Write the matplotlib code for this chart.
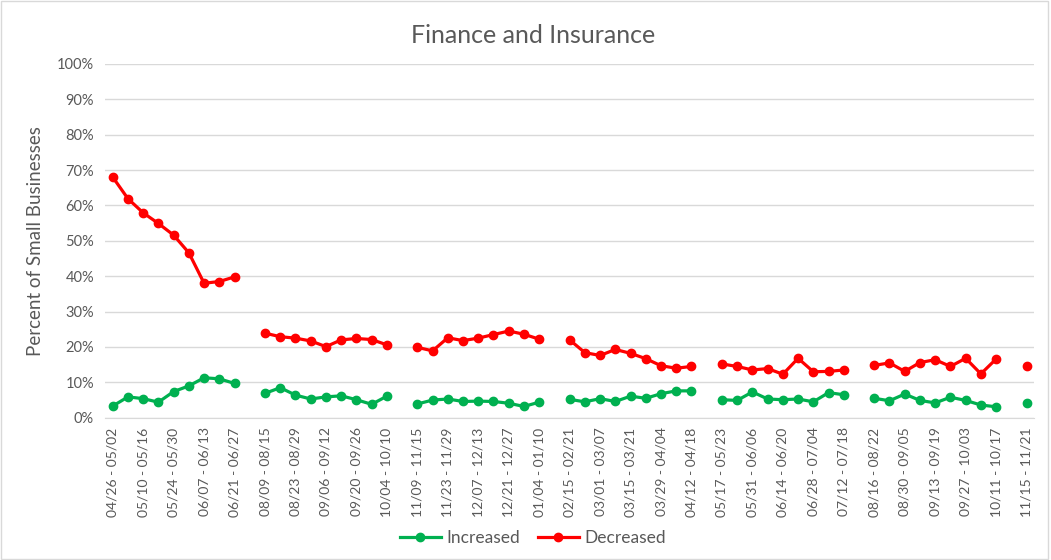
import numpy as np
import matplotlib
matplotlib.use('Agg')
import matplotlib.pyplot as plt
from matplotlib.patches import Rectangle
from matplotlib.ticker import PercentFormatter

plt.rcParams['font.family'] = ['Lato', 'DejaVu Sans']

# Survey periods (empty string = gap between survey phases)
periods = [
    '04/26 - 05/02', '05/03 - 05/09', '05/10 - 05/16', '05/17 - 05/23', '05/24 - 05/30',
    '05/31 - 06/06', '06/07 - 06/13', '06/14 - 06/20', '06/21 - 06/27', '',
    '08/09 - 08/15', '08/16 - 08/22', '08/23 - 08/29', '08/30 - 09/05', '09/06 - 09/12',
    '09/13 - 09/19', '09/20 - 09/26', '09/27 - 10/03', '10/04 - 10/10', '',
    '11/09 - 11/15', '11/16 - 11/22', '11/23 - 11/29', '11/30 - 12/06', '12/07 - 12/13',
    '12/14 - 12/20', '12/21 - 12/27', '12/28 - 01/03', '01/04 - 01/10', '',
    '02/15 - 02/21', '02/22 - 02/28', '03/01 - 03/07', '03/08 - 03/14', '03/15 - 03/21',
    '03/22 - 03/28', '03/29 - 04/04', '04/05 - 04/11', '04/12 - 04/18', '',
    '05/17 - 05/23', '05/24 - 05/30', '05/31 - 06/06', '06/07 - 06/13', '06/14 - 06/20',
    '06/21 - 06/27', '06/28 - 07/04', '07/05 - 07/11', '07/12 - 07/18', '',
    '08/16 - 08/22', '08/23 - 08/29', '08/30 - 09/05', '09/06 - 09/12', '09/13 - 09/19',
    '09/20 - 09/26', '09/27 - 10/03', '10/04 - 10/10', '10/11 - 10/17', '',
    '11/15 - 11/21',
]

nan = np.nan
increased = [
    3.3, 5.9, 5.4, 4.4, 7.4, 9.0, 11.3, 11.0, 9.7, nan,
    6.9, 8.5, 6.4, 5.3, 5.9, 6.2, 5.1, 3.8, 6.1, nan,
    3.9, 5.0, 5.3, 4.6, 4.7, 4.6, 4.1, 3.2, 4.4, nan,
    5.2, 4.5, 5.4, 4.6, 6.1, 5.5, 6.8, 7.6, 7.6, nan,
    5.1, 4.9, 7.3, 5.3, 5.1, 5.3, 4.5, 7.1, 6.5, nan,
    5.5, 4.8, 6.7, 4.9, 4.2, 5.8, 4.9, 3.6, 3.1, nan,
    4.2,
]
decreased = [
    68.0, 61.9, 57.9, 54.9, 51.6, 46.6, 38.0, 38.5, 39.8, nan,
    23.9, 22.9, 22.5, 21.7, 20.1, 22.0, 22.4, 22.1, 20.6, nan,
    19.9, 18.9, 22.6, 21.8, 22.5, 23.5, 24.5, 23.6, 22.2, nan,
    22.0, 18.4, 17.6, 19.3, 18.2, 16.7, 14.7, 14.0, 14.5, nan,
    15.2, 14.5, 13.5, 13.9, 12.3, 16.8, 13.0, 13.1, 13.5, nan,
    14.8, 15.5, 13.1, 15.6, 16.4, 14.5, 16.8, 12.4, 16.6, nan,
    14.5,
]

fig = plt.figure(figsize=(10.51, 5.6), dpi=100)
ax = fig.add_axes([0.100, 0.254, 0.884, 0.632])

x = np.arange(len(periods))
ax.plot(x, increased, color='#00B050', lw=2.3, marker='o', ms=6, label='Increased')
ax.plot(x, decreased, color='#FF0000', lw=2.3, marker='o', ms=6, label='Decreased')

ax.set_xlim(-0.5, len(periods) - 0.5)
ax.set_ylim(0, 100)
ax.set_yticks(np.arange(0, 101, 10))
ax.yaxis.set_major_formatter(PercentFormatter(decimals=0))
ax.set_xticks(x[::2])
ax.set_xticklabels(periods[::2], rotation=90)

ax.grid(axis='y', color='#D9D9D9', lw=1)
ax.set_axisbelow(True)
for s in ['top', 'right', 'left']:
    ax.spines[s].set_visible(False)
ax.spines['bottom'].set_color('#D9D9D9')
ax.tick_params(axis='both', length=0, colors='#595959')
ax.tick_params(axis='x', pad=7, labelsize=10)
ax.tick_params(axis='y', pad=8, labelsize=10.5)

fig.text(0.507, 0.937, 'Finance and Insurance', fontsize=18, color='#595959',
         ha='center', va='center')
ax.set_ylabel('Percent of Small Businesses', fontsize=13.5, color='#595959', labelpad=9)

fig.legend(loc='center', bbox_to_anchor=(0.507, 0.04), ncol=2, frameon=False,
           fontsize=12.5, labelcolor='#595959', handlelength=2.4, columnspacing=1.0,
           handletextpad=0.3)

fig.patches.append(Rectangle((0.001, 0.001), 0.996, 0.997, transform=fig.transFigure,
                             fill=False, edgecolor='#D9D9D9', lw=1))

fig.savefig('out.png', dpi=100)
